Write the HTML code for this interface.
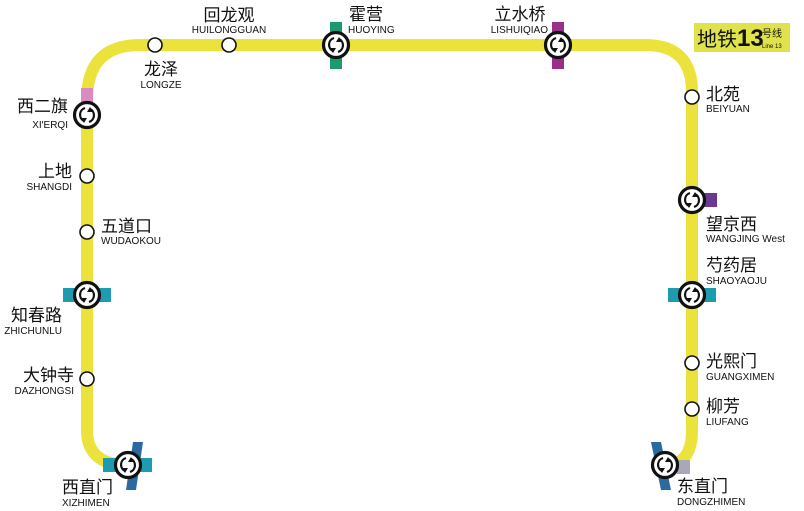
<!DOCTYPE html>
<html><head><meta charset="utf-8"><style>
html,body{margin:0;padding:0;background:#fff;}
svg{display:block;}
.c{font-family:"Liberation Sans","Noto Sans CJK SC",sans-serif;font-size:17px;fill:#111;}
.e{font-family:"Liberation Sans",sans-serif;font-size:10px;fill:#111;}
</style></head><body>
<svg width="804" height="511" viewBox="0 0 804 511" xmlns="http://www.w3.org/2000/svg">
<defs>
<g id="x">
<circle r="12.5" fill="#fff" stroke="#111" stroke-width="3.2"/>
<path d="M-2,-7 A7,7 0 0 0 -3,6" fill="none" stroke="#111" stroke-width="2.2"/>
<path d="M-6,3 L-3,8 L0,3 Z" fill="#111"/>
<path d="M2,7 A7,7 0 0 0 3,-6" fill="none" stroke="#111" stroke-width="2.2"/>
<path d="M6,-3 L3,-8 L0,-3 Z" fill="#111"/>
</g>
<circle id="s" r="7" fill="#fff" stroke="#111" stroke-width="1.6"/>
</defs>
<!-- line -->
<path d="M128,465 Q87,465 87,430 L87,100 Q87,45 140,45 L645,45 Q692,45 692,92 L692,430 Q692,465 665,465" fill="none" stroke="#ebe33c" stroke-width="12"/>
<!-- transfer bars -->
<rect x="81" y="88" width="12" height="14" fill="#d98cc0"/>
<rect x="330" y="22" width="12" height="47" fill="#1a9a6e"/>
<rect x="552" y="22" width="12" height="47" fill="#9a2f8a"/>
<rect x="63" y="288" width="48" height="14" fill="#1f9bb0"/>
<rect x="692" y="193" width="25" height="14" fill="#6b3a8f"/>
<rect x="668" y="288" width="48" height="14" fill="#1f9bb0"/>
<path d="M133,442 L143,442 L136,490 L126,490 Z" fill="#2a6aa0"/>
<rect x="103" y="458" width="49" height="14" fill="#1f9bb0"/>
<path d="M651,442 L661,442 L671,490 L661,490 Z" fill="#2a6aa0"/>
<rect x="677" y="460" width="13" height="14" fill="#a8a8b8"/>
<!-- logo -->
<rect x="694" y="23" width="96" height="29" fill="#dfe24a"/>
<text x="697" y="46" class="c" style="font-size:20px">地铁<tspan style="font-size:24px;font-weight:bold">13</tspan></text>
<text x="762" y="37" class="c" style="font-size:10px">号线</text>
<text x="762" y="48" class="e" style="font-size:6px">Line 13</text>
<!-- stations -->
<use href="#s" x="155" y="45"/><use href="#s" x="229" y="45"/>
<use href="#s" x="87" y="176"/><use href="#s" x="87" y="232"/><use href="#s" x="87" y="379"/>
<use href="#s" x="692" y="97"/><use href="#s" x="692" y="363"/><use href="#s" x="692" y="409"/>
<use href="#x" x="87" y="115"/><use href="#x" x="336" y="45"/><use href="#x" x="558" y="45"/>
<use href="#x" x="87" y="295"/><use href="#x" x="128" y="465"/>
<use href="#x" x="692" y="200"/><use href="#x" x="692" y="295"/><use href="#x" x="665" y="465"/>
<!-- labels -->
<text x="229" y="21" class="c" text-anchor="middle">回龙观</text>
<text x="229" y="33" class="e" text-anchor="middle">HUILONGGUAN</text>
<text x="161" y="75" class="c" text-anchor="middle">龙泽</text>
<text x="161" y="88" class="e" text-anchor="middle">LONGZE</text>
<text x="349" y="20" class="c">霍营</text>
<text x="348" y="33" class="e">HUOYING</text>
<text x="520" y="20" class="c" text-anchor="middle">立水桥</text>
<text x="548" y="33" class="e" text-anchor="end">LISHUIQIAO</text>
<text x="68" y="112" class="c" text-anchor="end">西二旗</text>
<text x="68" y="128" class="e" text-anchor="end">XI'ERQI</text>
<text x="72" y="177" class="c" text-anchor="end">上地</text>
<text x="72" y="190" class="e" text-anchor="end">SHANGDI</text>
<text x="101" y="232" class="c">五道口</text>
<text x="101" y="244" class="e">WUDAOKOU</text>
<text x="62" y="321" class="c" text-anchor="end">知春路</text>
<text x="62" y="334" class="e" text-anchor="end">ZHICHUNLU</text>
<text x="74" y="381" class="c" text-anchor="end">大钟寺</text>
<text x="74" y="394" class="e" text-anchor="end">DAZHONGSI</text>
<text x="62" y="493" class="c">西直门</text>
<text x="62" y="506" class="e">XIZHIMEN</text>
<text x="706" y="100" class="c">北苑</text>
<text x="706" y="112" class="e">BEIYUAN</text>
<text x="706" y="230" class="c">望京西</text>
<text x="706" y="242" class="e">WANGJING West</text>
<text x="706" y="271" class="c">芍药居</text>
<text x="706" y="284" class="e">SHAOYAOJU</text>
<text x="706" y="367" class="c">光熙门</text>
<text x="706" y="380" class="e">GUANGXIMEN</text>
<text x="706" y="412" class="c">柳芳</text>
<text x="706" y="425" class="e">LIUFANG</text>
<text x="677" y="492" class="c">东直门</text>
<text x="677" y="505" class="e">DONGZHIMEN</text>
</svg>
</body></html>
